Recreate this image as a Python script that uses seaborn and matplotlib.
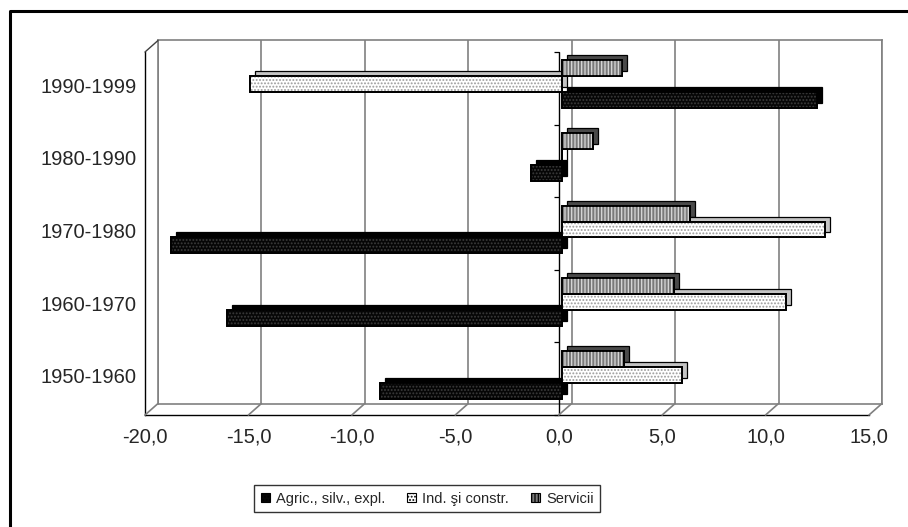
import matplotlib
matplotlib.use("Agg")
import matplotlib.pyplot as plt
import matplotlib.transforms as mtransforms
import seaborn as sns
import pandas as pd
from matplotlib.patches import Patch, Rectangle, ConnectionPatch
from matplotlib.lines import Line2D

# data (percentage points)
periods = ["1990-1999", "1980-1990", "1970-1980", "1960-1970", "1950-1960"]
agric = [12.3, -1.5, -18.9, -16.2, -8.8]
industrie = [-15.1, 0.0, 12.7, 10.8, 5.8]
servicii = [2.9, 1.5, 6.2, 5.4, 3.0]
sectors = ["Agric., silv., expl.", "Ind. şi constr.", "Servicii"]
x_ticks = [-20, -15, -10, -5, 0, 5, 10, 15]

df = pd.DataFrame({
    "Perioada": periods * 3,
    "Sector": [s for s in sectors for _ in periods],
    "Valoare": agric + industrie + servicii,
})

# look of each series: face, hatch, hatch colour, depth face
face = {sectors[0]: "#060606", sectors[1]: "#ffffff", sectors[2]: "#7a7a7a"}
hatch = {sectors[0]: ".....", sectors[1]: ".....", sectors[2]: "|||||"}
hatch_col = {sectors[0]: "#3c3c3c", sectors[1]: "#9a9a9a", sectors[2]: "#dadada"}
depth_col = {sectors[0]: "#000000", sectors[1]: "#c4c4c4", sectors[2]: "#4a4a4a"}

sns.set_style("white")
plt.rcParams["font.family"] = ["Liberation Sans", "DejaVu Sans"]
plt.rcParams["hatch.linewidth"] = 0.9

W, H = 908, 527
fig = plt.figure(figsize=(W / 100, H / 100), dpi=100, facecolor="white")


def box(x0, y0, x1, y1):
    """pixel box (top-left origin) -> figure rect"""
    return [x0 / W, 1 - y1 / H, (x1 - x0) / W, (y1 - y0) / H]


FX0, FY0, FX1, FY1 = 145, 52, 869, 415   # front plane
DX, DY = 13, -11.5                        # depth of the 3D box
BX, BY = 3.5, -4                          # plane of the bar faces
EX, EY = 5, -5                            # bar thickness

back = fig.add_axes(box(FX0 + DX, FY0 + DY, FX1 + DX, FY1 + DY))
front = fig.add_axes(box(FX0, FY0, FX1, FY1))
shadow = fig.add_axes(box(FX0 + BX + EX, FY0 + BY + EY, FX1 + BX + EX, FY1 + BY + EY))
bars = fig.add_axes(box(FX0 + BX, FY0 + BY, FX1 + BX, FY1 + BY))

hue_order = [sectors[2], sectors[1], sectors[0]]   # Servicii on top in each group

# depth of the bars
sns.barplot(data=df, x="Valoare", y="Perioada", hue="Sector", order=periods,
            hue_order=hue_order, palette=depth_col, orient="h", width=0.66,
            errorbar=None, saturation=1, edgecolor="black", linewidth=0.9,
            legend=False, ax=shadow)

# front faces
sns.barplot(data=df, x="Valoare", y="Perioada", hue="Sector", order=periods,
            hue_order=hue_order, palette=face, orient="h", width=0.66,
            errorbar=None, saturation=1, edgecolor="black", linewidth=1.3,
            legend=False, ax=bars)

lookup = {matplotlib.colors.to_hex(face[s]): s for s in sectors}
for p in list(bars.patches):
    s = lookup[matplotlib.colors.to_hex(p.get_facecolor())]
    bars.add_patch(Rectangle(p.get_xy(), p.get_width(), p.get_height(),
                             fill=False, hatch=hatch[s], edgecolor=hatch_col[s],
                             linewidth=0, zorder=2.5))
    bars.add_patch(Rectangle(p.get_xy(), p.get_width(), p.get_height(),
                             fill=False, edgecolor="black", linewidth=1.3, zorder=3))

for ax in (back, front, shadow, bars):
    ax.set_xlim(-20, 15)
    ax.set_ylim(len(periods) - 0.5, -0.5)
    ax.patch.set_visible(False)

for ax in (shadow, bars):
    ax.set_axis_off()

# back wall with gridlines
back.set_xticks(x_ticks)
back.set_yticks([])
back.grid(axis="x", color="#808080", linewidth=1.2)
back.tick_params(length=0, labelbottom=False)
for sp in back.spines.values():
    sp.set_color("#808080")
    sp.set_linewidth(1.2)

# front axes: ticks and labels
front.set_xticks(x_ticks)
front.set_xticklabels([f"{v:.1f}".replace(".", ",") for v in x_ticks], fontsize=14.5)
front.set_yticks(range(len(periods)))
front.set_yticklabels(periods, fontsize=14.5)
front.set_yticks([i - 0.5 for i in range(len(periods) + 1)], minor=True)
front.tick_params(axis="x", direction="out", length=3.6, width=0.9, pad=5.5, color="black")
front.tick_params(axis="y", which="major", length=0, pad=6)
front.tick_params(axis="y", which="minor", direction="out", length=3.6, width=0.9, color="black")
front.set_xlabel("")
front.set_ylabel("")
front.spines["top"].set_visible(False)
front.spines["right"].set_visible(False)
for sp in ("left", "bottom"):
    front.spines[sp].set_color("black")
    front.spines[sp].set_linewidth(1.0)

# lift the period labels a little, as in the original
lift = mtransforms.ScaledTranslation(0, 3 / 100, fig.dpi_scale_trans)
for lab in front.get_yticklabels():
    lab.set_transform(lab.get_transform() + lift)

# category axis crossing at zero
front.axvline(0, color="black", linewidth=1.0)
front.plot([0] * (len(periods) + 1), [i - 0.5 for i in range(len(periods) + 1)],
           ls="none", marker=0, markersize=3.6, markeredgewidth=0.9,
           color="black", clip_on=False)

# floor and side wall edges
for v in x_ticks:
    fig.add_artist(ConnectionPatch((v, 0), (v, 0),
                                   coordsA=front.get_xaxis_transform(),
                                   coordsB=back.get_xaxis_transform(),
                                   color="#808080", linewidth=1.2))
fig.add_artist(ConnectionPatch((-20, 1), (-20, 1),
                               coordsA=front.get_xaxis_transform(),
                               coordsB=back.get_xaxis_transform(),
                               color="#404040", linewidth=1.0))

# legend
handles = [Patch(facecolor=face[s], edgecolor="black", hatch=hatch[s], linewidth=0.8)
           for s in sectors]
leg = fig.legend(handles, sectors, loc="upper left",
                 bbox_to_anchor=(254 / W, 1 - 485 / H), ncol=3, fontsize=10.5,
                 frameon=True, fancybox=False, edgecolor="black",
                 handlelength=0.65, handleheight=0.65, handletextpad=0.4,
                 columnspacing=1.5, borderpad=0.45, borderaxespad=0)
leg.get_frame().set_linewidth(1.0)

# chart area frame (cut at right and bottom)
fig.add_artist(Line2D([9.5 / W, 9.5 / W, 1.0], [0.0, 1 - 10.5 / H, 1 - 10.5 / H],
                      transform=fig.transFigure, color="black", linewidth=2.2))

fig.savefig("out.png", dpi=100)
